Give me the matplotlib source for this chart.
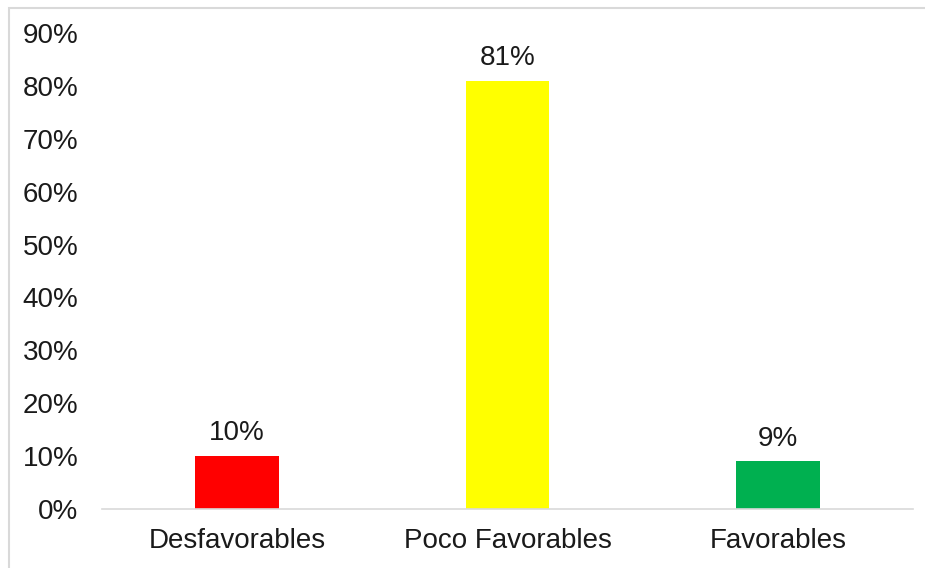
import matplotlib.pyplot as plt
from matplotlib.patches import Rectangle

plt.rcParams['font.family'] = ['Liberation Sans', 'DejaVu Sans']

categories = ['Desfavorables', 'Poco Favorables', 'Favorables']
values = [0.10, 0.81, 0.09]
labels = ['10%', '81%', '9%']
colors = ['#ff0000', '#ffff00', '#00b050']
yticks = [0, 0.1, 0.2, 0.3, 0.4, 0.5, 0.6, 0.7, 0.8, 0.9]

fig = plt.figure(figsize=(9.25, 5.68), dpi=100)
ax = fig.add_axes([102/925, 1 - 509/568, 811/925, (509 - 33)/568])

x = range(len(categories))
bars = ax.bar(x, values, width=0.31, color=colors)
for b, lab in zip(bars, labels):
    ax.annotate(lab, (b.get_x() + b.get_width()/2, b.get_height()),
                xytext=(0, 7), textcoords='offset points',
                ha='center', va='bottom', fontsize=20, color='#1a1a1a')

ax.set_xlim(-0.5, 2.5)
ax.set_ylim(0, 0.9)
ax.set_yticks(yticks)
ax.set_yticklabels([f'{int(round(t*100))}%' for t in yticks])
ax.set_xticks(list(x))
ax.set_xticklabels(categories)
ax.tick_params(axis='both', length=0, labelsize=20, colors='#1a1a1a')
ax.tick_params(axis='y', pad=17)
ax.tick_params(axis='x', pad=14)

for s in ['top', 'right', 'left']:
    ax.spines[s].set_visible(False)
ax.spines['bottom'].set_color('#d9d9d9')
ax.spines['bottom'].set_linewidth(1.2)

# outer chart border
fig.patches.append(Rectangle((9/925, -0.01), 1.0, 1 - 8/568 + 0.01,
                             transform=fig.transFigure, fill=False,
                             edgecolor='#d9d9d9', lw=1.5))

plt.savefig('out.png', dpi=100)
